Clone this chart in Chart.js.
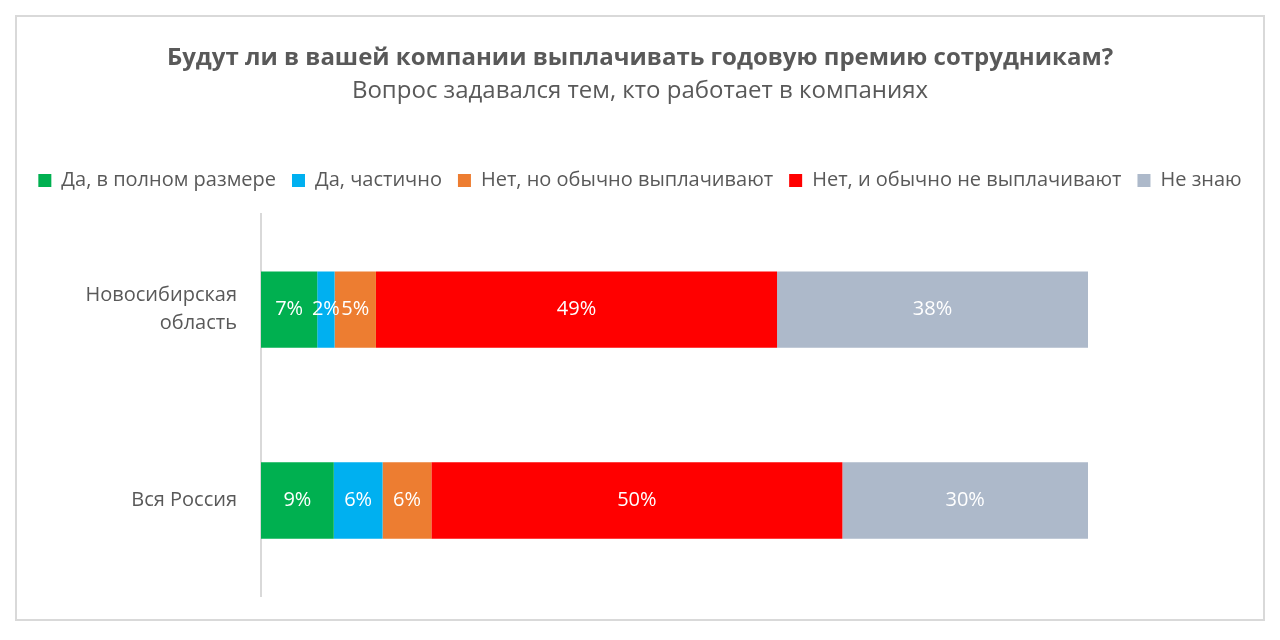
<!DOCTYPE html>
<html lang="ru">
<head>
<meta charset="utf-8">
<title>Годовая премия</title>
<script src="https://cdn.jsdelivr.net/npm/chart.js@4/dist/chart.umd.min.js"></script>
<style>
    html, body { margin: 0; padding: 0; background: #fff; }
    #wrap { position: relative; width: 1280px; height: 640px; }
    #frame {
        position: absolute; left: 15px; top: 15px; width: 1250px; height: 606px;
        border: 2px solid #d9d9d9; box-sizing: border-box; pointer-events: none;
    }
</style>
</head>
<body>
<div id="wrap">
    <canvas id="bonusChart" width="1280" height="640"></canvas>
    <div id="frame"></div>
</div>
<script>
'use strict';

// --- ДАННЫЕ (доли в %, подписи округлены) ---
const regions = [['Новосибирская', 'область'], 'Вся Россия'];
const answers = ['Да, в полном размере', 'Да, частично', 'Нет, но обычно выплачивают', 'Нет, и обычно не выплачивают', 'Не знаю'];
const fullYes = [6.8, 8.8];
const partYes = [2.1, 5.9];
const noButUsually = [5.0, 5.9];
const noUsuallyNot = [48.5, 49.7];
const dontKnow = [37.6, 29.7];
const answerColors = ['#00b050', '#00b0f0', '#ed7d31', '#ff0000', '#adb9ca'];

const TEXT = '#595959';
Chart.defaults.font.family = "'Open Sans', sans-serif";
Chart.defaults.color = TEXT;

// подписи значений внутри сегментов
const barLabels = {
    id: 'barLabels',
    afterDatasetsDraw(chart) {
        const ctx = chart.ctx;
        ctx.save();
        ctx.font = "20px 'Open Sans'";
        ctx.fillStyle = '#ffffff';
        ctx.textAlign = 'center';
        ctx.textBaseline = 'middle';
        chart.data.datasets.forEach((ds, i) => {
            chart.getDatasetMeta(i).data.forEach((bar, j) => {
                const p = bar.getProps(['x', 'y', 'base'], true);
                ctx.fillText(Math.round(ds.data[j]) + '%', (p.x + p.base) / 2, p.y);
            });
        });
        ctx.restore();
    }
};

const series = [fullYes, partYes, noButUsually, noUsuallyNot, dontKnow];

new Chart(document.getElementById('bonusChart'), {
    type: 'bar',
    data: {
        labels: regions,
        datasets: series.map((values, i) => ({
            label: answers[i],
            data: values,
            backgroundColor: answerColors[i],
            borderWidth: 0,
            categoryPercentage: 1,
            barPercentage: 0.4
        }))
    },
    options: {
        indexAxis: 'y',
        responsive: false,
        animation: false,
        events: [],
        layout: { padding: { top: 0, left: 0, right: 0, bottom: 44 } },
        scales: {
            x: {
                type: 'linear', stacked: true, min: 0, max: 100, position: 'top',
                ticks: { display: false },
                grid: { display: false },
                border: { display: false },
                afterFit: (s) => { s.height = 13.5; }
            },
            y: {
                stacked: true, position: 'left',
                grid: { display: false, drawTicks: false },
                border: { display: true, color: '#d9d9d9', width: 2 },
                ticks: { color: TEXT, padding: 24, font: { size: 20, lineHeight: 1.4 } },
                afterFit: (s) => {
                    s.width = 261;
                    s.paddingTop = 0;
                    s.paddingBottom = 0;
                }
            },
            yRight: {
                type: 'category', position: 'right',
                ticks: { display: false },
                grid: { display: false },
                border: { display: false },
                afterFit: (s) => { s.width = 192; }
            }
        },
        plugins: {
            title: {
                display: true,
                text: 'Будут ли в вашей компании выплачивать годовую премию сотрудникам?',
                color: TEXT,
                font: { size: 24, weight: 'bold' },
                padding: { top: 44, bottom: 0 }
            },
            subtitle: {
                display: true,
                text: 'Вопрос задавался тем, кто работает в компаниях',
                color: TEXT,
                font: { size: 24 },
                padding: { top: 4, bottom: 49 }
            },
            legend: {
                position: 'top',
                labels: { boxWidth: 13, boxHeight: 13, padding: 16, color: TEXT, font: { size: 20 } }
            },
            tooltip: { enabled: false }
        }
    },
    plugins: [barLabels]
});
</script>
</body>
</html>
